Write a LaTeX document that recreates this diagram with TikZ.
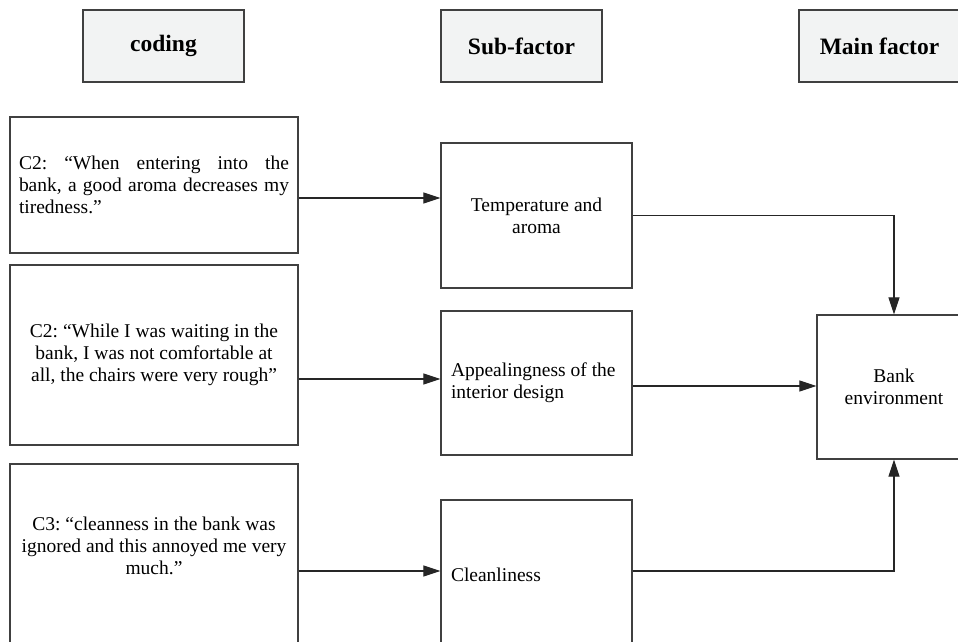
\documentclass[tikz,border=0pt]{standalone}
\usepackage{fontspec}
\setmainfont{Liberation Serif}
\frenchspacing
\definecolor{BoxLine}{RGB}{64,64,64}
\definecolor{HeadFill}{RGB}{242,243,243}
\usetikzlibrary{positioning, arrows.meta, calc}

\begin{document}
\begin{tikzpicture}[x=1pt, y=-1pt,
    box/.style={draw=BoxLine, line width=1.2pt, fill=white, inner sep=0pt,
      font=\fontsize{19.5}{22}\selectfont},
    headbox/.style={draw=BoxLine, line width=1.2pt, fill=HeadFill,
      minimum width=161pt, minimum height=72pt,
      font=\fontsize{23.5}{26}\selectfont\bfseries},
    arr/.style={-{Triangle[length=17pt, width=11pt]}, line width=1.1pt, black!85}]
  \useasboundingbox (0,0) rectangle (958,641);

  % column headers
  \node[headbox] (hdrCoding) at (163.5,46) {coding};
  \node[headbox] (hdrSub)    at (521.5,46) {Sub-factor};
  \node[headbox] (hdrMain)   at (879.5,46) {Main factor};

  % coding column
  \node[box, minimum width=288pt, minimum height=136pt, text width=270pt, align=justify]
    (code1) at (154,185)
    {C2: “When entering into the\linebreak bank, a good aroma decreases my\linebreak tiredness.”};
  \node[box, minimum width=288pt, minimum height=180pt, align=center]
    (code2) at (154,355)
    {C2: “While I was waiting in the\\ bank, I was not comfortable at\\ all, the chairs were very rough”};
  \node[box, minimum width=288pt, minimum height=186pt, align=center]
    (code3) at (154,557)
    {C3: “cleanness in the bank was\\ ignored and this annoyed me very\\ much.”\\ \rule{0pt}{22pt}};

  % sub-factor column
  \node[box, minimum width=191pt, minimum height=145pt, align=center]
    (sub1) at (536.5,215.5) {Temperature and\\ aroma};
  \node[box, minimum width=191pt, minimum height=144pt, text width=171pt, align=flush left]
    (sub2) at (536.5,383) {Appealingness of the\\ interior design};
  \node[box, minimum width=191pt, minimum height=150pt, text width=171pt, align=flush left]
    (sub3) at (536.5,575) {Cleanliness};

  % main factor
  \node[box, minimum width=154pt, minimum height=144pt, align=center]
    (mainEnv) at (894,387) {Bank\\ environment};

  % connectors
  \draw[arr] ([yshift=-13pt]code1.east) coordinate (c1) -- (c1 -| sub1.west);
  \draw[arr] ([yshift=-24pt]code2.east) coordinate (c2) -- (c2 -| sub2.west);
  \draw[arr] ([yshift=-14pt]code3.east) coordinate (c3) -- (c3 -| sub3.west);
  \draw[arr] (sub1.east) -| (mainEnv.north);
  \draw[arr] ([yshift=-3pt]sub2.east) coordinate (s2) -- (s2 -| mainEnv.west);
  \draw[arr] ([yshift=4pt]sub3.east) coordinate (s3) -| (mainEnv.south);
\end{tikzpicture}
\end{document}
